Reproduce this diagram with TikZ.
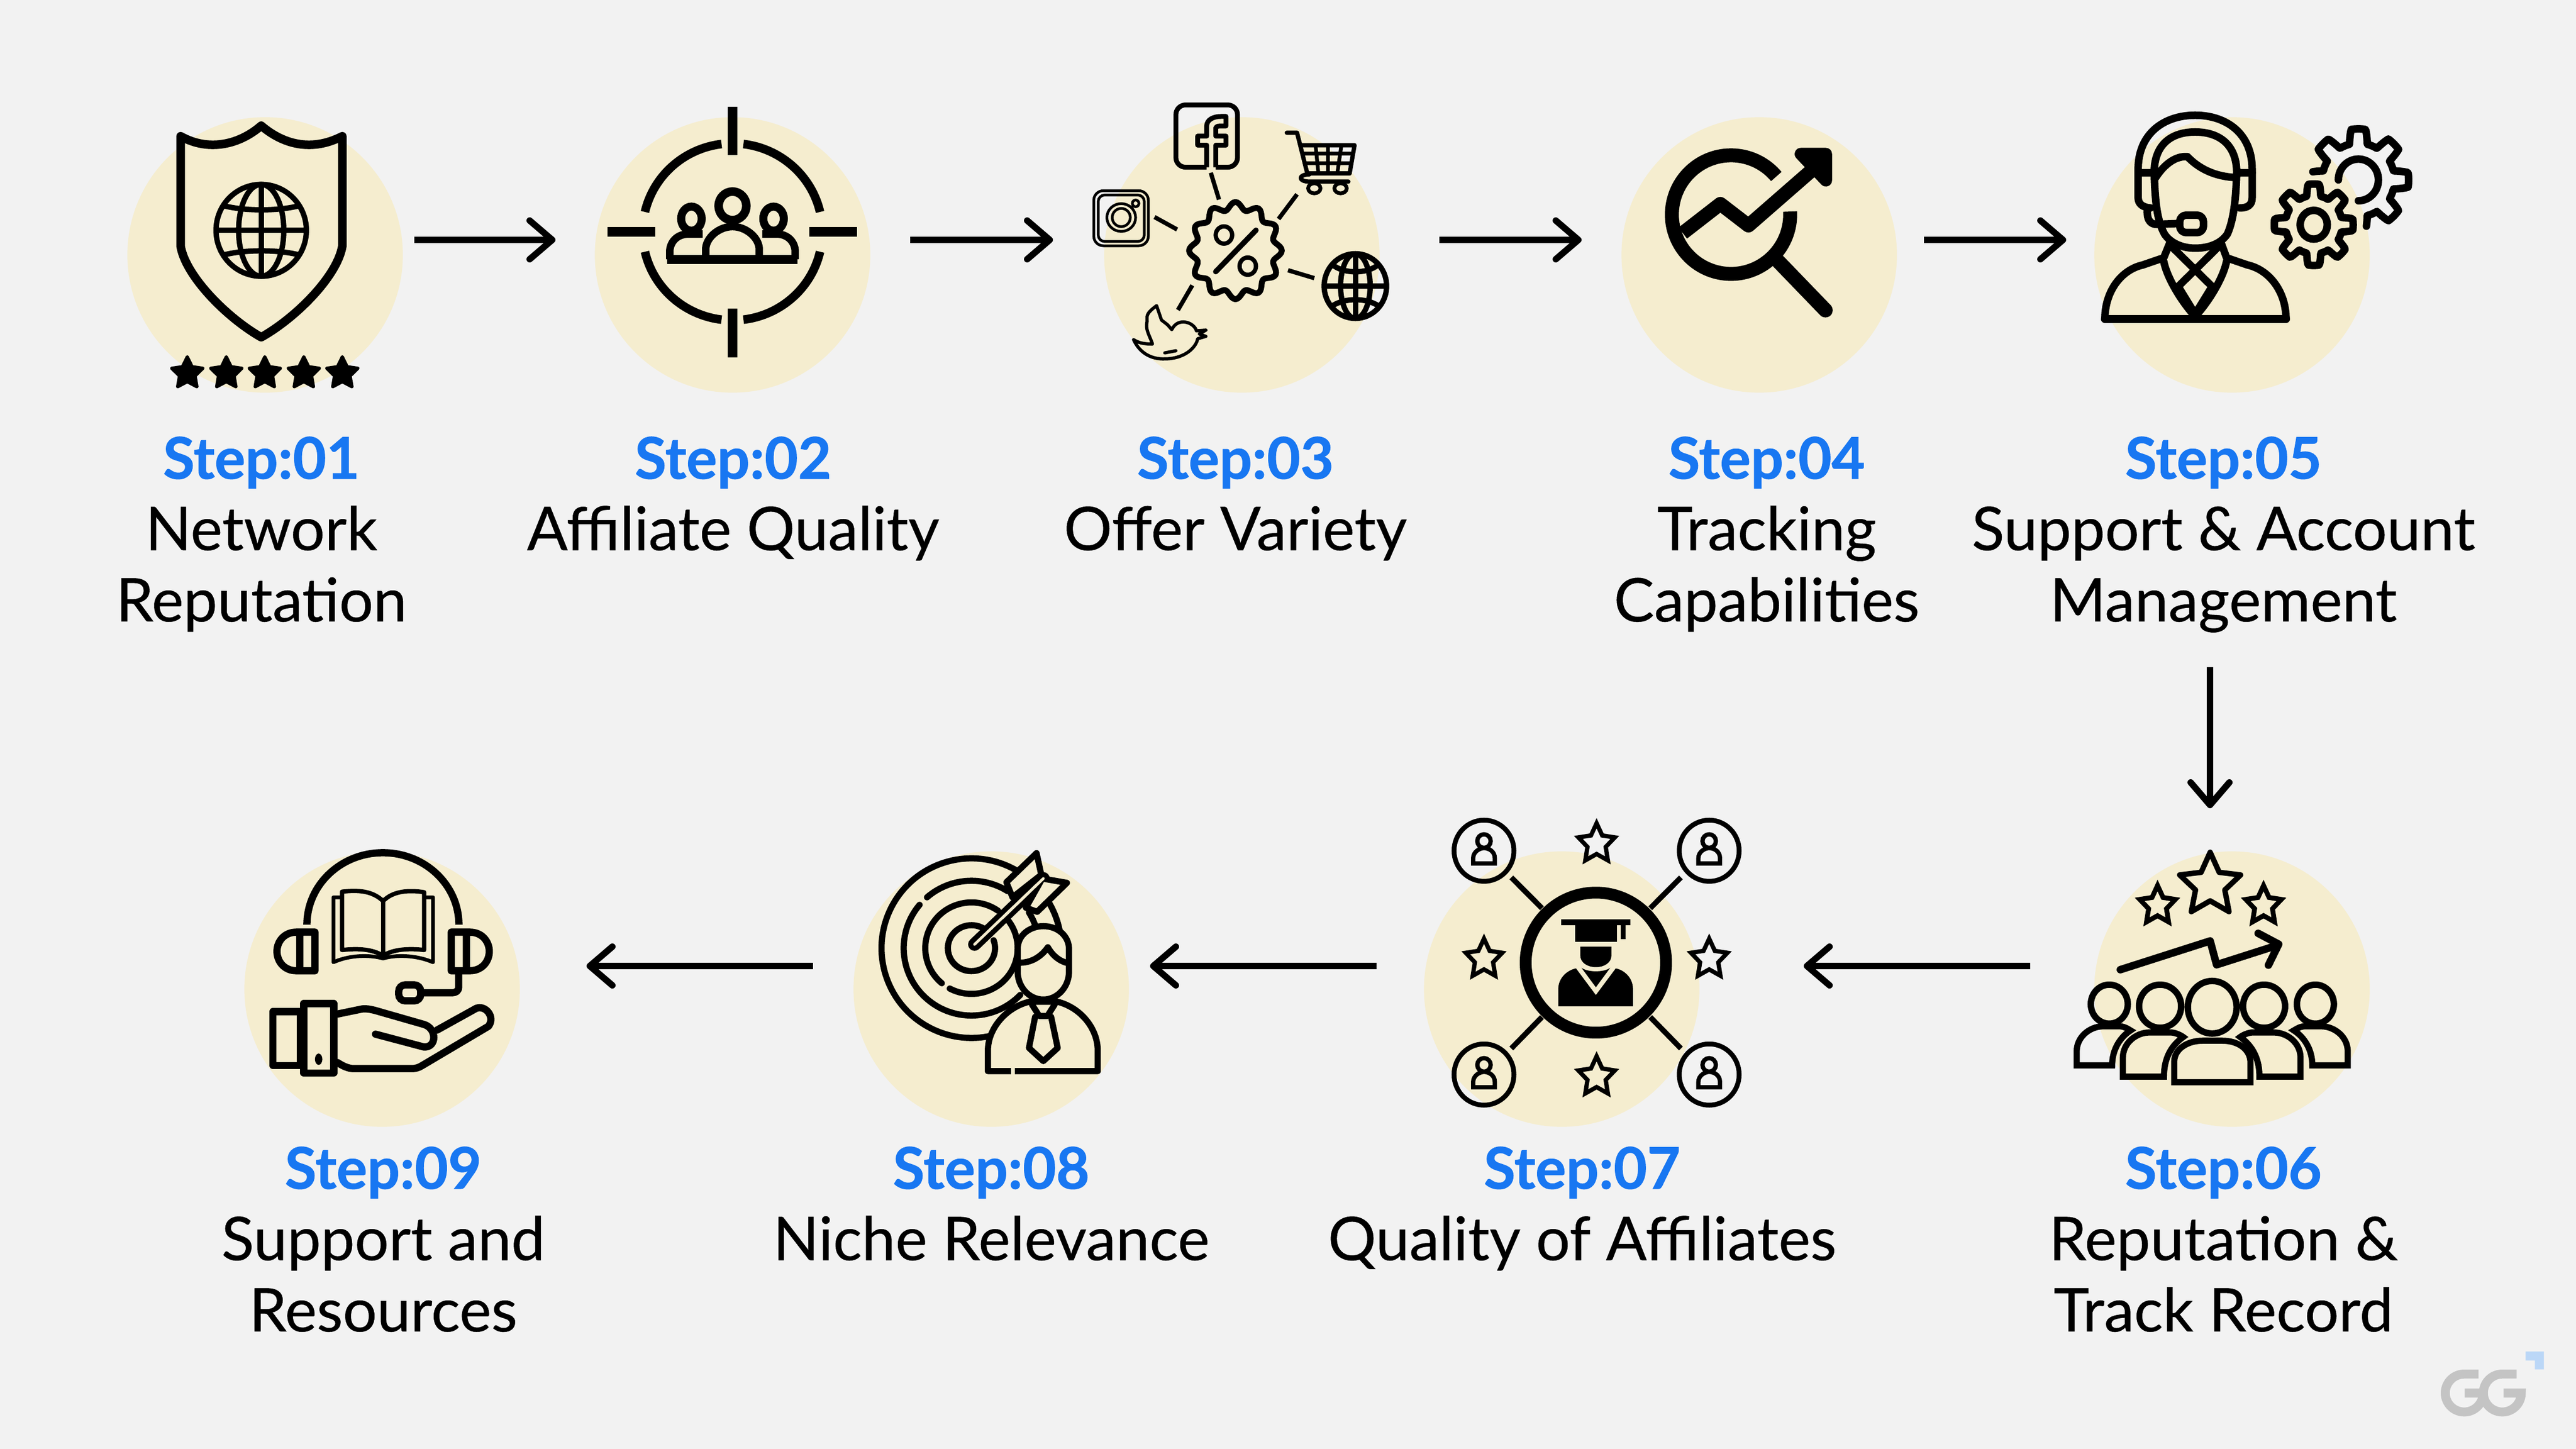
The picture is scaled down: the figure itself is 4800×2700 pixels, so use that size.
\documentclass[tikz,border=0pt]{standalone}
\usepackage{fontspec}
\setmainfont{Lato}[Ligatures=Common,FakeBold=0.4,BoldFont=*-Bold,BoldFeatures={FakeBold=0.9}]
\usetikzlibrary{arrows.meta,calc}
\definecolor{bgc}{HTML}{F2F2F2}
\definecolor{cream}{HTML}{F5EDCF}
\definecolor{stepblue}{HTML}{1877F2}
\definecolor{logog}{HTML}{C4C4C4}
\definecolor{logob}{HTML}{BBD7F7}
\tikzset{
  zoomed/.style n args={4}{shift={(#1*0.01cm,-#2*0.01cm)},x={#3/1568*0.01cm},y={-#4/1568*0.01cm}},
  lw/.style={line width=#1*0.01cm},
  disc/.style={circle,fill=cream,minimum size=5.13cm,inner sep=0pt,draw=none},
  lab/.style={anchor=north,inner sep=0pt,align=center,font=\fontsize{31.9pt}{37.8pt}\selectfont},
  flow/.style={lw=12,-{Straight Barb[round,length=0.42cm,width=0.72cm]}},
  rj/.style={line join=round,line cap=round},
}
\newcommand\stp[1]{{\fontsize{30.5pt}{37.8pt}\selectfont\bfseries\color{stepblue}#1}}
\newcommand\estar[5]{({#1},{#2-#4}) -- ({#1+#5*.588*#3},{#2-#5*.809*#4}) -- ({#1+.951*#3},{#2-.309*#4}) -- ({#1+#5*.951*#3},{#2+#5*.309*#4}) -- ({#1+.588*#3},{#2+.809*#4}) -- ({#1},{#2+#5*#4}) -- ({#1-.588*#3},{#2+.809*#4}) -- ({#1-#5*.951*#3},{#2+#5*.309*#4}) -- ({#1-.951*#3},{#2-.309*#4}) -- ({#1-#5*.588*#3},{#2-#5*.809*#4}) -- cycle}
\newcommand\earc[6]{({#1+#3*cos(#5)},{#2+#4*sin(#5)}) arc[start angle=#5,end angle=#6,x radius=#3,y radius=#4]}
\newcommand\gearplot[6]{plot[variable=\t,domain=#5:#6,samples=241] ({#1+#3*(.86+.14*max(-1,min(1,2.5*cos(8*\t))))*cos(\t)},{#2+#4*(.86+.14*max(-1,min(1,2.5*cos(8*\t))))*sin(\t)})}
\begin{document}
\begin{tikzpicture}[x=0.01cm,y=-0.01cm]
\useasboundingbox (0,0) rectangle (4800,2700);
\fill[bgc] (0,0) rectangle (4800,2700);
% discs
\node[disc] (c1) at (494,475) {};
\node[disc] (c2) at (1365,475) {};
\node[disc] (c3) at (2314,475) {};
\node[disc] (c4) at (3278,475) {};
\node[disc] (c5) at (4159,475) {};
\node[disc] (c6) at (4159,1843) {};
\node[disc] (c7) at (2910,1843) {};
\node[disc] (c8) at (1847,1843) {};
\node[disc] (c9) at (712,1843) {};
% labels
\node[lab] (t1) at (487,813) {\stp{Step:01}\\Network\\Reputation};
\node[lab] (t2) at (1366,813) {\stp{Step:02}\\Affiliate Quality};
\node[lab] (t3) at (2302,813) {\stp{Step:03}\\Offer Variety};
\node[lab] (t4) at (3292,813) {\stp{Step:04}\\Tracking\\Capabilities};
\node[lab] (t5) at (4143,813) {\stp{Step:05}\\Support \& Account\\Management};
\node[lab] (t6) at (4143,2136) {\stp{Step:06}\\Reputation \&\\Track Record};
\node[lab] (t7) at (2948,2136) {\stp{Step:07}\\Quality of Affiliates};
\node[lab] (t8) at (1847,2136) {\stp{Step:08}\\Niche Relevance};
\node[lab] (t9) at (714,2136) {\stp{Step:09}\\Support and\\Resources};
% connectors
\coordinate (a1s) at (772,447); \coordinate (a1e) at (1035,447);
\coordinate (a2s) at (1696,447); \coordinate (a2e) at (1962,447);
\coordinate (a3s) at (2682,447); \coordinate (a3e) at (2947,447);
\coordinate (a4s) at (3585,447); \coordinate (a4e) at (3850,447);
\coordinate (a5s) at (4118,1243); \coordinate (a5e) at (4118,1506);
\coordinate (a6s) at (3783,1800); \coordinate (a6e) at (3361,1800);
\coordinate (a7s) at (2565,1800); \coordinate (a7e) at (2143,1800);
\coordinate (a8s) at (1515,1800); \coordinate (a8e) at (1093,1800);
\foreach \i in {1,...,8} \draw[flow] (a\i s) -- (a\i e);
% icon 1 and 2
\begin{scope}[zoomed={150}{150}{1500}{1100}]
\draw[lw=16,rj] (195,148) .. controls (250,190) and (310,170) .. (352,120) .. controls (395,170) and (450,190) .. (510,148) -- (510,440) .. controls (500,520) and (420,630) .. (352,682) .. controls (285,630) and (205,520) .. (195,440) -- cycle;
\draw[lw=10] (352,398) circle [x radius=88,y radius=122];
\draw[lw=10] (352,398) circle [x radius=44,y radius=122];
\draw[lw=10] (352,276) -- (352,520) (264,398) -- (440,398);
\draw[lw=10] (280,333) .. controls (320,347) and (385,347) .. (425,333);
\draw[lw=10] (280,463) .. controls (320,449) and (385,449) .. (425,463);
\foreach \c in {208,284,359,435,510}
  \fill[draw=black,lw=6,line join=round] \estar{\c}{778}{32}{44}{.5};
% crosshair
\draw[lw=18] (1270,70) -- (1270,198) (1270,606) -- (1270,735) (1027,402) -- (1120,402) (1420,402) -- (1513,402);
\draw[lw=16] \earc{1270}{402}{175}{235}{193}{263};
\draw[lw=16] \earc{1270}{402}{175}{235}{277}{347};
\draw[lw=16] \earc{1270}{402}{175}{235}{13}{83};
\draw[lw=16] \earc{1270}{402}{175}{235}{97}{167};
\draw[lw=16] (1270,333) circle [x radius=27,y radius=38];
\draw[lw=15] (1190,367) circle [x radius=20,y radius=32];
\draw[lw=15] (1350,367) circle [x radius=20,y radius=32];
\draw[lw=17,line join=round] (1143,476) -- (1397,476);
\draw[lw=14,line join=round] (1218,475) -- (1218,445) .. controls (1220,415) and (1245,388) .. (1270,388) .. controls (1295,388) and (1320,415) .. (1322,445) -- (1322,475);
\draw[lw=14,line join=round] (1148,475) -- (1148,450) .. controls (1150,425) and (1165,405) .. (1190,408) -- (1212,408);
\draw[lw=14,line join=round] (1392,475) -- (1392,450) .. controls (1390,425) and (1375,405) .. (1350,408) -- (1328,408);
\end{scope}
% icon 3
\begin{scope}[zoomed={1950}{150}{1200}{700}]
\draw[lw=9,line join=round,rounded corners=0.18cm] (390,362) -- (315,362) -- (315,102) -- (465,102) -- (465,362) -- (412,362);
\draw[lw=9,line join=round] (390,362) -- (390,270) -- (368,270) -- (368,232) -- (390,232) -- (390,190) .. controls (390,165) and (405,150) .. (425,150) -- (437,150) -- (437,190) -- (422,190) .. controls (415,190) and (412,195) .. (412,200) -- (412,232) -- (437,232) -- (437,270) -- (412,270) -- (412,362);
% cart
\draw[lw=8,rj] (585,218) -- (610,218) -- (635,388);
\draw[lw=8,rj] (618,270) -- (750,270) -- (738,388) -- (635,388);
\draw[lw=7] (655,270) -- (662,388) (685,270) -- (685,388) (718,270) -- (708,388) (625,305) -- (745,305) (630,345) -- (740,345);
\draw[lw=8,rj] (735,422) -- (640,422) .. controls (612,422) and (612,392) .. (640,392);
\draw[lw=7] (652,450) circle [x radius=15,y radius=21] (716,450) circle [x radius=15,y radius=21];
% insta
\draw[lw=5,rounded corners=0.18cm] (115,460) rectangle (248,690);
\draw[lw=5,rounded corners=0.12cm] (126,478) rectangle (238,672);
\draw[lw=5] (182,572) circle [x radius=35,y radius=58] (182,572) circle [x radius=22,y radius=38] (217,513) circle [x radius=8,y radius=14];
% bird
\draw[lw=6,rj] (268,940) .. controls (240,975) and (245,985) .. (245,1005) .. controls (240,1040) and (250,1060) .. (258,1100) .. controls (235,1100) and (225,1095) .. (212,1082) .. controls (225,1130) and (250,1165) .. (290,1162) .. controls (340,1160) and (365,1110) .. (368,1078) -- (388,1068) -- (372,1058) -- (388,1042) -- (365,1045) .. controls (360,1010) and (320,985) .. (305,1040) -- (295,1020) -- (280,1000) -- cycle;
\draw[lw=6,rj] (288,1137) -- (315,1128);
% badge
\draw[lw=11,line join=round] plot[variable=\t,domain=0:360,samples=145] ({460+104*(1+.085*cos(12*\t))*cos(\t)},{710+187*(1+.085*cos(12*\t))*sin(\t)}) -- cycle;
\draw[lw=10,rj] (510,625) -- (412,798);
\draw[lw=8] (432,645) circle [x radius=20,y radius=36] (490,775) circle [x radius=20,y radius=36];
% spokes
\draw[lw=8] (400,385) -- (420,497) (610,475) -- (565,578) (263,570) -- (318,622) (588,792) -- (652,825) (355,855) -- (320,958);
% globe
\draw[lw=10] (752,858) circle [x radius=76,y radius=135] (752,858) circle [x radius=36,y radius=135];
\draw[lw=10] (752,723) -- (752,993) (676,858) -- (828,858);
\draw[lw=10] (697,770) .. controls (725,808) and (780,808) .. (807,770);
\draw[lw=10] (692,945) .. controls (725,905) and (780,905) .. (812,945);
\end{scope}
% icon 4
\begin{scope}[zoomed={2950}{180}{600}{550}]
\draw[lw=26] \earc{720}{627}{288}{315}{320}{-3};
\draw[lw=27,line cap=round] (950,875) -- (1180,1135);
\draw[lw=26,line join=round] (485,725) -- (668,570) -- (805,685) -- (1120,385);
\fill[draw=black,lw=23,line join=round] (1060,305) -- (1182,305) -- (1182,445) -- cycle;
\end{scope}
% icon 5
\begin{scope}[zoomed={3700}{150}{900}{700}]
\draw[lw=14,rj] (535,532) .. controls (510,530) and (495,515) .. (495,490) -- (495,370) .. controls (495,220) and (580,145) .. (680,145) .. controls (780,145) and (865,220) .. (865,370) -- (865,490) .. controls (865,520) and (850,532) .. (825,532);
\draw[lw=14,rj] (495,385) -- (547,385) .. controls (547,270) and (600,215) .. (680,215) .. controls (760,215) and (815,270) .. (815,385) -- (865,385);
\draw[lw=14,rj] (547,385) .. controls (550,500) and (555,580) .. (580,640) .. controls (600,680) and (640,700) .. (680,700) .. controls (725,700) and (765,680) .. (785,640) .. controls (805,580) and (812,500) .. (815,385);
\draw[lw=14,rj] (552,405) .. controls (590,330) and (630,315) .. (655,318) .. controls (690,365) and (740,400) .. (810,405);
\draw[lw=14,rj] (525,540) .. controls (522,590) and (540,605) .. (565,600) -- (625,597);
\draw[lw=14,rj,rounded corners=0.12cm] (630,562) rectangle (707,635);
\draw[lw=14,rj] (387,995) .. controls (387,880) and (440,790) .. (510,770) -- (578,740) -- (597,680);
\draw[lw=14,rj] (975,995) .. controls (975,880) and (920,790) .. (850,770) -- (782,740) -- (765,680);
\draw[lw=15,rj] (387,995) -- (975,995);
\draw[lw=14,rj] (578,755) .. controls (590,830) and (640,930) .. (680,985) .. controls (720,930) and (770,830) .. (782,755);
\draw[lw=14,rj] (605,695) -- (735,860) -- (680,975) -- (625,860) -- (755,695);
% gears
\draw[lw=14,line join=round] \gearplot{1065}{602}{128}{170}{0}{360} -- cycle;
\draw[lw=14] (1065,602) circle [x radius=44,y radius=60];
\draw[lw=14,rj] \gearplot{1210}{415}{163}{213}{190}{440};
\draw[lw=14,rj] \earc{1210}{415}{65}{87}{180}{450};
\end{scope}
% icon 6
\begin{scope}[zoomed={3750}{1500}{750}{600}]
\draw[lw=10,line join=round] \estar{770}{390}{125}{160}{.48};
\draw[lw=9] \estar{565}{490}{73}{98}{.5};
\draw[lw=9] \estar{978}{490}{73}{98}{.5};
\draw[lw=14,rj] (420,802) -- (770,662) -- (795,778) -- (1035,682);
\draw[lw=14,rj] (957,625) -- (1037,678) -- (997,780);
\draw[lw=12] (377,970) circle [x radius=72,y radius=95] (575,980) circle [x radius=82,y radius=105] (778,985) circle [x radius=95,y radius=128] (980,980) circle [x radius=82,y radius=105] (1180,970) circle [x radius=72,y radius=95];
\draw[lw=11.5] (630,1350) -- (630,1250) .. controls (630,1190) and (680,1148) .. (740,1148) -- (818,1148) .. controls (880,1148) and (925,1190) .. (927,1250) -- (927,1350) -- cycle;
\draw[lw=11.5] (430,1323) -- (430,1230) .. controls (430,1160) and (480,1110) .. (530,1108) -- (620,1108) .. controls (640,1110) and (660,1125) .. (665,1130) .. controls (620,1170) and (590,1230) .. (590,1323) -- cycle;
\draw[lw=11.5] (1122,1323) -- (1122,1230) .. controls (1122,1160) and (1072,1110) .. (1022,1108) -- (932,1108) .. controls (912,1110) and (892,1125) .. (887,1130) .. controls (932,1170) and (962,1230) .. (962,1323) -- cycle;
\draw[lw=11.5] (250,1268) -- (250,1200) .. controls (250,1130) and (300,1080) .. (350,1078) -- (420,1078) .. controls (440,1080) and (455,1095) .. (460,1098) .. controls (420,1130) and (388,1190) .. (388,1268) -- cycle;
\draw[lw=11.5] (1306,1268) -- (1306,1200) .. controls (1306,1130) and (1256,1080) .. (1206,1078) -- (1136,1078) .. controls (1116,1080) and (1101,1095) .. (1096,1098) .. controls (1136,1130) and (1168,1190) .. (1168,1268) -- cycle;
\end{scope}
% icon 7
\begin{scope}[zoomed={2650}{1480}{700}{600}]
\draw[lw=22] (725,820) circle [x radius=293,y radius=341];
\foreach \cx/\cy in {258/275,1198/275,258/1365,1198/1365} {
  \draw[lw=9] (\cx,\cy) circle [x radius=125,y radius=149];
  \draw[lw=8] (\cx,\cy-47) circle [x radius=28,y radius=33];
  \draw[lw=8,line join=miter] ({\cx-45},\cy+62) -- ({\cx-45},\cy+35) .. controls ({\cx-45},\cy+5) and ({\cx-18},\cy-13) .. (\cx,\cy-13) .. controls ({\cx+22},\cy-13) and ({\cx+45},\cy+5) .. ({\cx+45},\cy+35) -- ({\cx+45},\cy+62) -- cycle;
}
\draw[lw=10] (372,405) -- (500,555) (1080,405) -- (952,555) (372,1238) -- (500,1085) (1080,1238) -- (952,1085);
\foreach \cx/\cy in {728/241,258/803,1198/803,728/1376}
  \draw[lw=8] \estar{\cx}{\cy}{80}{100}{.5};
\fill (580,610) rectangle (868,637);
\fill (638,637) rectangle (812,718);
\fill (828,637) rectangle (850,706);
\fill (660,742) -- (660,785) .. controls (660,820) and (690,842) .. (725,842) .. controls (760,842) and (790,820) .. (790,785) -- (790,742) -- cycle;
\fill (568,1033) -- (880,1033) -- (880,950) .. controls (880,890) and (840,855) .. (808,848) -- (725,978) -- (642,848) .. controls (610,855) and (568,890) .. (568,950) -- cycle;
\fill (665,845) .. controls (690,868) and (760,868) .. (785,845) -- (725,940) -- cycle;
\end{scope}
% icon 8
\begin{scope}[zoomed={1550}{1530}{600}{550}]
\begin{scope}[lw=11.5,line cap=round]
\draw \earc{680}{675}{438}{477}{300}{78};
\draw \earc{680}{675}{438}{477}{330}{350};
\draw \earc{680}{675}{330}{358}{229}{302};
\draw \earc{680}{675}{330}{358}{220}{44};
\draw \earc{680}{675}{330}{358}{328}{345};
\draw \earc{680}{675}{225}{243}{305}{130};
\draw \earc{680}{675}{225}{243}{118}{-40};
\draw \earc{680}{675}{115}{122}{305}{-20};
\end{scope}
% arrow
\draw[lw=24,line cap=round] (695,655) -- (1030,305);
\draw[cream,lw=5,line cap=round] (695,655) -- (1030,305);
\filldraw[fill=cream,lw=11.5,line join=round] (850,325) -- (997,170) -- (1020,285) -- (880,405) -- cycle;
\filldraw[fill=cream,lw=11.5,line join=round] (1025,305) -- (1145,328) -- (1000,482) -- (945,460) -- cycle;
\draw[cream,lw=5,line cap=round] (830,515) -- (1030,305);
% person
\filldraw[fill=cream,lw=11.5,line join=round] (760,1328) -- (760,1220) .. controls (760,1100) and (850,990) .. (960,960) -- (1100,960) .. controls (1210,990) and (1295,1100) .. (1295,1220) -- (1295,1328) -- cycle;
\draw[cream,lw=14] (872,1328) -- (890,1328);
\filldraw[fill=cream,lw=11.5,line join=round] (905,680) .. controls (905,600) and (970,558) .. (1030,558) .. controls (1100,558) and (1155,610) .. (1155,680) -- (1155,800) .. controls (1155,880) and (1100,948) .. (1030,948) .. controls (960,948) and (905,880) .. (905,800) -- cycle;
\draw[lw=11.5,rj] (910,752) .. controls (970,755) and (1020,720) .. (1052,670) .. controls (1075,715) and (1110,745) .. (1150,755);
\draw[lw=11.5,rj] (975,975) -- (1010,1035) -- (1050,1035) -- (1085,975);
\draw[lw=11.5,rj] (990,1040) -- (960,1205) -- (1030,1275) -- (1100,1205) -- (1068,1040);
\end{scope}
% icon 9
\begin{scope}[zoomed={430}{1530}{600}{550}]
\draw[lw=13.5] \earc{741}{550}{370}{382}{180}{360};
\draw[lw=13.5,line join=round] (410,590) -- (320,590) .. controls (260,590) and (225,640) .. (225,692) .. controls (225,745) and (260,795) .. (320,795) -- (410,795) -- cycle (336,590) -- (336,795);
\draw[lw=13.5,line join=round] (1074,590) -- (1164,590) .. controls (1224,590) and (1259,640) .. (1259,692) .. controls (1259,745) and (1224,795) .. (1164,795) -- (1074,795) -- cycle (1148,590) -- (1148,795);
\draw[lw=13.5,line join=round] (1110,800) -- (1110,880) .. controls (1110,905) and (1095,912) .. (1075,912) -- (935,912);
\draw[lw=13.5,rounded corners=0.12cm] (818,870) rectangle (925,955);
\draw[lw=8,rj] (542,375) -- (542,685) .. controls (620,675) and (690,680) .. (742,715) .. controls (790,680) and (870,675) .. (942,685) -- (942,378) .. controls (870,365) and (790,370) .. (742,425) .. controls (690,370) and (620,365) .. (542,375) -- cycle;
\draw[lw=8] (742,425) -- (742,725);
\draw[lw=7,rj] (535,405) -- (500,405) -- (500,750) .. controls (580,710) and (680,710) .. (742,730) .. controls (800,710) and (900,710) .. (985,750) -- (985,405) -- (950,405);
\draw[lw=13.5,line join=round] (205,1012) rectangle (340,1298);
\draw[lw=13.5,line join=round] (355,970) rectangle (502,1338);
\fill (428,1265) circle [x radius=18,y radius=30];
\draw[lw=13.5,rj] (520,1025) -- (640,998) .. controls (660,995) and (680,1000) .. (700,1005) -- (940,1080) .. controls (1005,1100) and (1005,1205) .. (940,1200) -- (705,1132);
\draw[lw=13.5,rj] (1005,1110) -- (1195,995) .. controls (1240,975) and (1290,1040) .. (1255,1090) -- (930,1300) .. controls (915,1310) and (900,1315) .. (880,1315) -- (600,1315) .. controls (570,1315) and (545,1300) .. (520,1283);
\end{scope}
% logo
\begin{scope}[zoomed={4450}{2480}{522.67}{522.67}]
\draw[logog,lw=16.7] (505,241) -- (425,241) arc[start angle=270,end angle=0,radius=106] -- (428,347);
\draw[logog,lw=16.7] (718,241) -- (638,241) arc[start angle=270,end angle=0,radius=106] -- (645,347);
\fill[logob] (768,115) -- (870,115) -- (870,215) -- (820,215) -- (820,165) -- (768,165) -- cycle;
\end{scope}
\end{tikzpicture}
\end{document}
